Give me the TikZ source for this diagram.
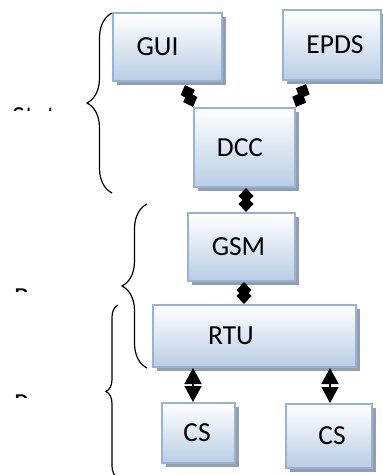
\documentclass[tikz,border=0pt]{standalone}
\usepackage{fontspec}
\setmainfont{Carlito}
\usetikzlibrary{arrows.meta,shadows,decorations.pathreplacing}
\definecolor{bordc}{RGB}{149,179,215}
\definecolor{botc}{RGB}{185,205,229}
\definecolor{shadc}{RGB}{150,158,172}
\newcommand\bigf{\fontsize{27.5}{32}\selectfont}
\begin{document}
\begin{tikzpicture}[x=1pt,y=-1pt,
  box/.style={draw=bordc,line width=2pt,top color=white,bottom color=botc,
    inner sep=0pt,font=\bigf,
    drop shadow={shadow xshift=4pt,shadow yshift=-4pt,fill=shadc,opacity=1}},
  dia/.style={line width=2pt,{Diamond[length=16pt,width=15pt]}-{Diamond[length=16pt,width=15pt]}},
  tri/.style={line width=1.5pt,{Triangle[length=16pt,width=17pt]}-{Triangle[length=16pt,width=17pt]}},
  brc/.style={line width=1.2pt,decorate},
  lbl/.style={anchor=base west,inner sep=0pt,font=\bigf}]
\useasboundingbox (0,0) rectangle (383,475);
% boxes
\node[box,minimum width=109pt,minimum height=68pt] (GUI) at (167.5,47) {GUI\kern20pt};
\node[box,minimum width=98pt,minimum height=70pt] (EPDS) at (332,45) {\kern6pt EPDS};
\node[box,minimum width=101pt,minimum height=79pt] (DCC) at (244.5,147.5) {DCC\kern9pt};
\node[box,minimum width=107pt,minimum height=68pt] (GSM) at (241.5,247) {GSM\kern6pt};
\node[box,minimum width=203pt,minimum height=62pt] (RTU) at (254.5,336) {RTU\kern47pt};
\node[box,minimum width=73pt,minimum height=60pt] (CS1) at (198.5,433) {CS\kern3pt};
\node[box,minimum width=86pt,minimum height=64pt] (CS2) at (329,436) {\kern6pt CS};
% connectors
\draw[dia] ([xshift=17.5pt,yshift=-3pt]GUI.south) -- (DCC.north west);
\draw[dia] ([xshift=24pt,yshift=-3pt]EPDS.south west) -- (DCC.north east);
\draw[dia] ([xshift=1.5pt]DCC.south) -- ([xshift=1.5pt]DCC.south |- GSM.north);
\draw[dia] ([xshift=2.5pt]GSM.south) -- ([xshift=2.5pt]GSM.south |- RTU.north);
\draw[tri] ([xshift=-5.5pt]CS1.north |- RTU.south) -- ([xshift=-5.5pt]CS1.north);
\draw[tri] ([xshift=1pt]CS2.north |- RTU.south) -- ([xshift=1pt]CS2.north);
% braces
\draw[brc,decoration={brace,amplitude=25pt}] (112,193) -- (112,13);
\draw[brc,decoration={brace,amplitude=25pt}] (147,368) -- (147,204);
\draw[brc,decoration={brace,amplitude=12pt}] (118,478) -- (118,305);
% clipped labels
\begin{scope}
\clip (0,0) rectangle (55,110.5);
\node[lbl] (L1) at (12,125) {Station};
\end{scope}
\begin{scope}
\clip (0,200) rectangle (40,291.5);
\node[lbl] (L2) at (14,306) {Bay};
\end{scope}
\begin{scope}
\clip (0,300) rectangle (28,397);
\node[lbl] (L3) at (14,412) {Process};
\end{scope}
\end{tikzpicture}
\end{document}
